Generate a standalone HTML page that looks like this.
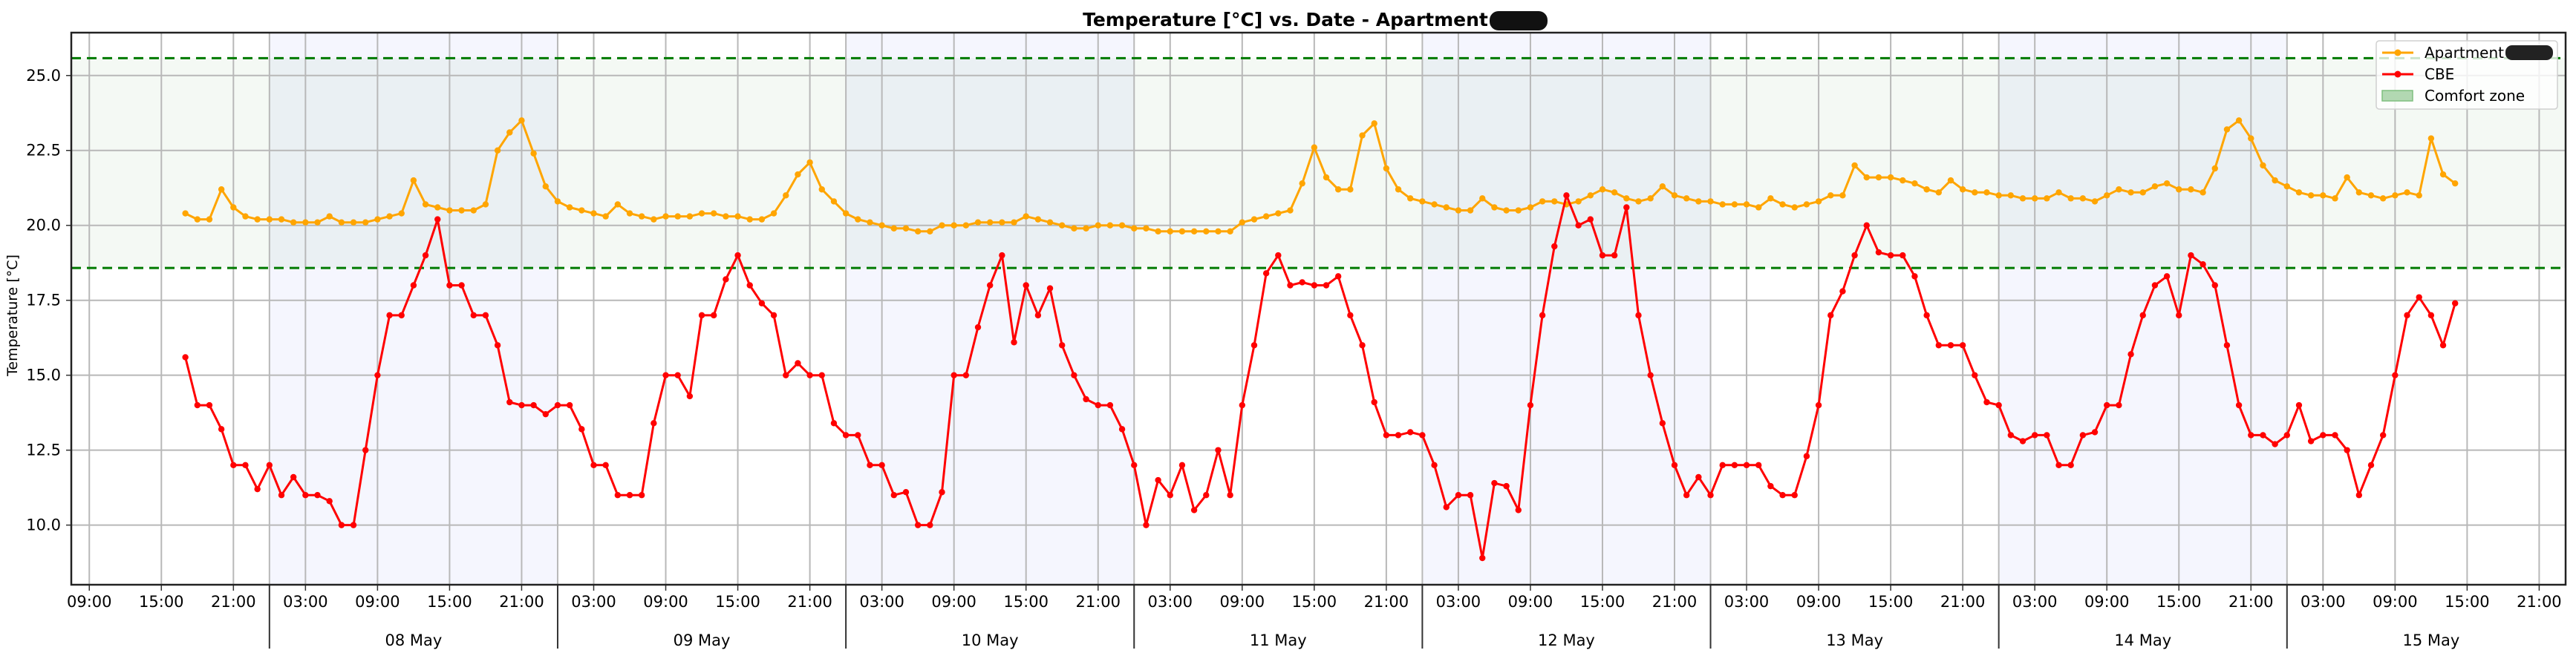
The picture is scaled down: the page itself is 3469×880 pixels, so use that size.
<!DOCTYPE html>
<html><head><meta charset="utf-8"><style>
html,body{margin:0;padding:0;background:#fff}
svg{display:block;font-family:"DejaVu Sans","Liberation Sans",sans-serif}
</style></head><body>
<svg id="chart" width="3469" height="880" viewBox="0 0 3469 880" xmlns="http://www.w3.org/2000/svg">
<text x="1731" y="35" text-anchor="middle" font-size="25" font-weight="bold">Temperature [°C] vs. Date - Apartment</text>
<rect x="2006" y="15" width="78" height="26" rx="12" fill="#111"/>
<g id="plot"></g>
</svg>
<script>
const categoriesStartLabel = "2024-05-07 17:00";
const apartment = [20.4,20.2,20.2,21.2,20.6,20.3,20.2,20.2,20.2,20.1,20.1,20.1,20.3,20.1,20.1,20.1,20.2,20.3,20.4,21.5,20.7,20.6,20.5,20.5,20.5,20.7,22.5,23.1,23.5,22.4,21.3,20.8,20.6,20.5,20.4,
20.3,20.7,20.4,20.3,20.2,20.3,20.3,20.3,20.4,20.4,20.3,20.3,20.2,20.2,20.4,21.0,21.7,22.1,21.2,20.8,20.4,20.2,20.1,20.0,19.9,19.9,19.8,19.8,20.0,20.0,20.0,20.1,20.1,20.1,
20.1,20.3,20.2,20.1,20.0,19.9,19.9,20.0,20.0,20.0,19.9,19.9,19.8,19.8,19.8,19.8,19.8,19.8,19.8,20.1,20.2,20.3,20.4,20.5,21.4,22.6,21.6,21.2,21.2,23.0,23.4,21.9,21.2,20.9,
20.8,20.7,20.6,20.5,20.5,20.9,20.6,20.5,20.5,20.6,20.8,20.8,20.7,20.8,21.0,21.2,21.1,20.9,20.8,20.9,21.3,21.0,20.9,20.8,20.8,20.7,20.7,20.7,20.6,
20.9,20.7,20.6,20.7,20.8,21.0,21.0,22.0,21.6,21.6,21.6,21.5,21.4,21.2,21.1,21.5,21.2,21.1,21.1,21.0,21.0,20.9,20.9,20.9,21.1,20.9,20.9,20.8,21.0,
21.2,21.1,21.1,21.3,21.4,21.2,21.2,21.1,21.9,23.2,23.5,22.9,22.0,21.5,21.3,21.1,21.0,21.0,20.9,21.6,21.1,21.0,20.9,21.0,21.1,21.0,22.9,21.7,21.4];
const cbe = [15.6,14.0,14.0,13.2,12.0,12.0,11.2,12.0,11.0,11.6,11.0,11.0,10.8,10.0,10.0,12.5,15.0,17.0,17.0,18.0,19.0,20.2,18.0,18.0,17.0,17.0,16.0,14.1,14.0,14.0,13.7,14.0,14.0,13.2,12.0,
12.0,11.0,11.0,11.0,13.4,15.0,15.0,14.3,17.0,17.0,18.2,19.0,18.0,17.4,17.0,15.0,15.4,15.0,15.0,13.4,13.0,13.0,12.0,12.0,11.0,11.1,10.0,10.0,11.1,15.0,15.0,16.6,18.0,19.0,
16.1,18.0,17.0,17.9,16.0,15.0,14.2,14.0,14.0,13.2,12.0,10.0,11.5,11.0,12.0,10.5,11.0,12.5,11.0,14.0,16.0,18.4,19.0,18.0,18.1,18.0,18.0,18.3,17.0,16.0,14.1,13.0,13.0,13.1,
13.0,12.0,10.6,11.0,11.0,8.9,11.4,11.3,10.5,14.0,17.0,19.3,21.0,20.0,20.2,19.0,19.0,20.6,17.0,15.0,13.4,12.0,11.0,11.6,11.0,12.0,12.0,12.0,12.0,
11.3,11.0,11.0,12.3,14.0,17.0,17.8,19.0,20.0,19.1,19.0,19.0,18.3,17.0,16.0,16.0,16.0,15.0,14.1,14.0,13.0,12.8,13.0,13.0,12.0,12.0,13.0,13.1,14.0,
14.0,15.7,17.0,18.0,18.3,17.0,19.0,18.7,18.0,16.0,14.0,13.0,13.0,12.7,13.0,14.0,12.8,13.0,13.0,12.5,11.0,12.0,13.0,15.0,17.0,17.6,17.0,16.0,17.4];
const comfortBand = [18.58, 25.58];
const yTicks = [10.0, 12.5, 15.0, 17.5, 20.0, 22.5, 25.0];
const xTickLabels = ["09:00","15:00","21:00","03:00"];
const dayLabels = ["08 May","09 May","10 May","11 May","12 May","13 May","14 May","15 May"];

const NS="http://www.w3.org/2000/svg";
const L=96,R=3455,T=44,B=788;
const H0=-1.5,H1=206.2,Y0=8.01,Y1=26.43;
const firstHour=8;
function xs(h){return L+(h-H0)/(H1-H0)*(R-L);}
function ys(v){return B-(v-Y0)/(Y1-Y0)*(B-T);}
const g=document.getElementById('plot');
function mk(tag,attrs,parent){const e=document.createElementNS(NS,tag);for(const k in attrs)e.setAttribute(k,attrs[k]);(parent||g).appendChild(e);return e;}

const band=mk('rect',{x:L,y:ys(comfortBand[1]),width:R-L,height:ys(comfortBand[0])-ys(comfortBand[1]),fill:'#f4f9f4'});


dayLabels.forEach((d,i)=>{
  if(i%2===0){
    const s=15+24*i, e2=s+24;
    const r=mk('rect',{x:xs(s),y:T,width:xs(e2)-xs(s),height:B-T,fill:'rgba(88,105,238,0.06)'});
    
    
  }
});

yTicks.forEach(v=>{
  const ln=mk('line',{x1:L,x2:R,y1:ys(v),y2:ys(v),stroke:'#b8b8b8','stroke-width':2});
  
  
  const t=mk('text',{x:L-14,y:ys(v)+7,'text-anchor':'end','font-size':21,fill:'#000'});
  t.textContent=v.toFixed(1);
  
  
  mk('line',{x1:L-7,x2:L,y1:ys(v),y2:ys(v),stroke:'#333','stroke-width':1.5});
});
for(let h=0;h<=204;h+=6){
  const x=xs(h);
  const ln=mk('line',{x1:x,x2:x,y1:T,y2:B,stroke:'#b8b8b8','stroke-width':2});
  
  
  mk('line',{x1:x,x2:x,y1:B,y2:B+8,stroke:'#333','stroke-width':1.5});
  const t=mk('text',{x:x,y:B+30,'text-anchor':'middle','font-size':21,fill:'#000'});
  t.textContent=xTickLabels[(h/6)%4];
  
  
}
dayLabels.forEach((d,i)=>{
  const m=15+24*i;
  const gl=mk('line',{x1:xs(m),x2:xs(m),y1:T,y2:B,stroke:'#b8b8b8','stroke-width':2});
  
  
  const sep=mk('line',{x1:xs(m),x2:xs(m),y1:B,y2:874,stroke:'#333','stroke-width':2});
  
  
  const t=mk('text',{x:xs(m+12),y:870,'text-anchor':'middle','font-size':21,fill:'#000'});
  t.textContent=d;
  
  
});

comfortBand.forEach(v=>{
  const ln=mk('line',{x1:L,x2:R,y1:ys(v),y2:ys(v),stroke:'#007a00','stroke-width':3,'stroke-dasharray':'13,8'});
  
  
});

function series(vals,color,name){
  const pts=vals.map((v,i)=>xs(firstHour+i).toFixed(1)+','+ys(v).toFixed(1)).join(' ');
  const pl=mk('polyline',{points:pts,fill:'none',stroke:color,'stroke-width':3,'stroke-linejoin':'round'});
  
  
  vals.forEach((v,i)=>{
    const c=mk('circle',{cx:xs(firstHour+i),cy:ys(v),r:4.2,fill:color});
    
    
  });
}
series(apartment,'#ffa500','apartment');
series(cbe,'#ff0000','cbe');

const fr=mk('rect',{x:L,y:T,width:R-L,height:B-T,fill:'none',stroke:'#222','stroke-width':2.5});



const yl=mk('text',{x:0,y:0,'text-anchor':'middle','font-size':19,transform:'translate(23,425) rotate(-90)'});
yl.textContent='Temperature [°C]';



const lg=mk('g',{});


mk('rect',{x:3200,y:55,width:244,height:92,rx:4,fill:'rgba(255,255,255,0.8)',stroke:'#d0d0d0','stroke-width':1.5},lg);
const entries=[['Apartment','#ffa500','line'],['CBE','#ff0000','line'],['Comfort zone','#b2d8b2','patch']];
entries.forEach((e,i)=>{
  const y=71+29*i;
  const ent=mk('g',{},lg);
  
  
  if(e[2]==='line'){
    mk('line',{x1:3208,x2:3250,y1:y,y2:y,stroke:e[1],'stroke-width':3},ent);
    mk('circle',{cx:3229,cy:y,r:4.5,fill:e[1]},ent);
  } else {
    mk('rect',{x:3208,y:y-7,width:41,height:14,fill:e[1],stroke:'#7fbf7f','stroke-width':1.5},ent);
  }
  const t=mk('text',{x:3265,y:y+7,'font-size':20,fill:'#000'},ent);
  t.textContent=e[0];
});
const blob=mk('rect',{x:3374,y:61,width:64,height:20,rx:9,fill:'#222'},lg);


</script>
</body></html>
